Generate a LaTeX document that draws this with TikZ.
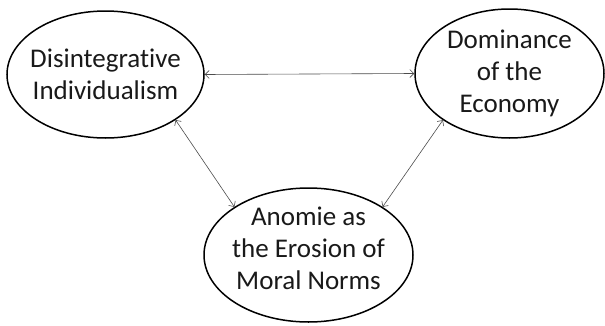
\documentclass[tikz,border=0pt]{standalone}
\usepackage{fontspec}
\setmainfont{Carlito}[Ligatures=NoCommon]
\usepackage{tikz}
\usetikzlibrary{shapes.geometric, arrows.meta, positioning}

\begin{document}
\begin{tikzpicture}[x=1pt, y=1pt,
  oval/.style={ellipse, draw, line width=1.5pt, inner sep=0pt},
  lbl/.style={align=center, text=black!90, font=\fontsize{27}{32}\selectfont},
  link/.style={{Straight Barb[length=4pt,width=8pt]}-{Straight Barb[length=4pt,width=8pt]}, line width=0.6pt, black!70}]
  \useasboundingbox (0,0) rectangle (605,325);
  % the three ovals
  \node[oval, minimum width=197pt, minimum height=127pt] (indiv) at (105.5,250.5) {};
  \node[oval, minimum width=189pt, minimum height=129pt] (econ) at (509.5,251.5) {};
  \node[oval, minimum width=209pt, minimum height=134pt] (anomie) at (308.5,70) {};
  \node[lbl] (indivtxt) at (indiv) {Disintegrative\\Individualism};
  \node[lbl] (econtxt) at (econ) {Dominance\\of the\\Economy};
  \node[lbl, yshift=7pt] (anomietxt) at (anomie) {Anomie as\\the Erosion of\\Moral Norms};
  % links
  \draw[link] (indiv.east) -- (econ.west);
  \draw[link] (indiv.-33) -- (anomie.147);
  \draw[link] (econ.-145) -- (anomie.33);
\end{tikzpicture}
\end{document}
